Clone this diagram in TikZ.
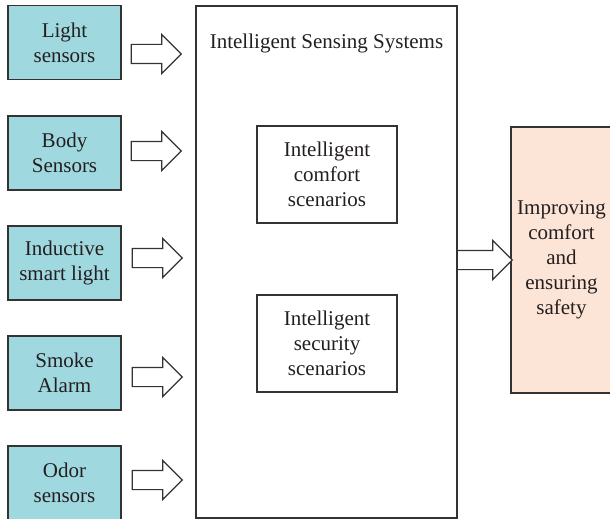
\documentclass[tikz,border=0pt]{standalone}
\usepackage{fontspec}
\setmainfont{Liberation Serif}
\usepackage{xcolor}
\usetikzlibrary{positioning, shapes.arrows}

\definecolor{sensfill}{HTML}{A0D8E0}
\definecolor{resfill}{HTML}{FCE4D6}
\definecolor{inkgray}{HTML}{231F20}
\definecolor{edgegray}{HTML}{333333}

\begin{document}
\begin{tikzpicture}[
    x=0.5pt, y=-0.5pt,
    every node/.style={text=inkgray, font=\fontsize{10.5pt}{12.5pt}\selectfont},
    box/.style={draw=edgegray, line width=0.7pt, align=center, inner sep=2pt},
    sensbox/.style={box, fill=sensfill, minimum width=56.5pt, minimum height=37pt},
    scenbox/.style={box, minimum width=70pt, minimum height=48.5pt},
    blockarr/.style={shape=single arrow, draw=edgegray, line width=0.6pt, fill=white,
        minimum height=25pt, inner xsep=0pt, inner ysep=4.5pt, single arrow head extend=5pt}
]
    \useasboundingbox (0,0) rectangle (610,519);

    % sensors on the left
    \node[sensbox] (s1) at (64.5,42.5) {Light\\sensors};
    \node[sensbox] (s2) at (64.5,153) {Body\\Sensors};
    \node[sensbox] (s3) at (64.5,263) {Inductive\\smart light};
    \node[sensbox] (s4) at (64.5,373) {Smoke\\Alarm};
    \node[sensbox] (s5) at (64.5,483) {Odor\\sensors};

    % main system box and its scenarios
    \node[box, minimum width=130.5pt, minimum height=256pt] (sys) at (326.5,262) {};
    \node (title) at (326.5,43) {Intelligent Sensing Systems};
    \node[scenbox] (comf) at (327,174.5) {Intelligent\\comfort\\scenarios};
    \node[scenbox] (secu) at (327,343.5) {Intelligent\\security\\scenarios};

    % result on the right
    \node[box, fill=resfill, minimum width=50.5pt, minimum height=133pt] (res) at (561.5,260) {Improving\\comfort\\and\\ensuring\\safety};

    % block arrows
    \node[blockarr] (a1) at (151.5,54) {};
    \node[blockarr] (a2) at (151.5,151) {};
    \node[blockarr] (a3) at (152.5,258) {};
    \node[blockarr] (a4) at (152.5,377) {};
    \node[blockarr] (a5) at (152.5,480) {};
    \node[blockarr, minimum height=27.5pt] (a6) at (480,260) {};
\end{tikzpicture}
\end{document}
